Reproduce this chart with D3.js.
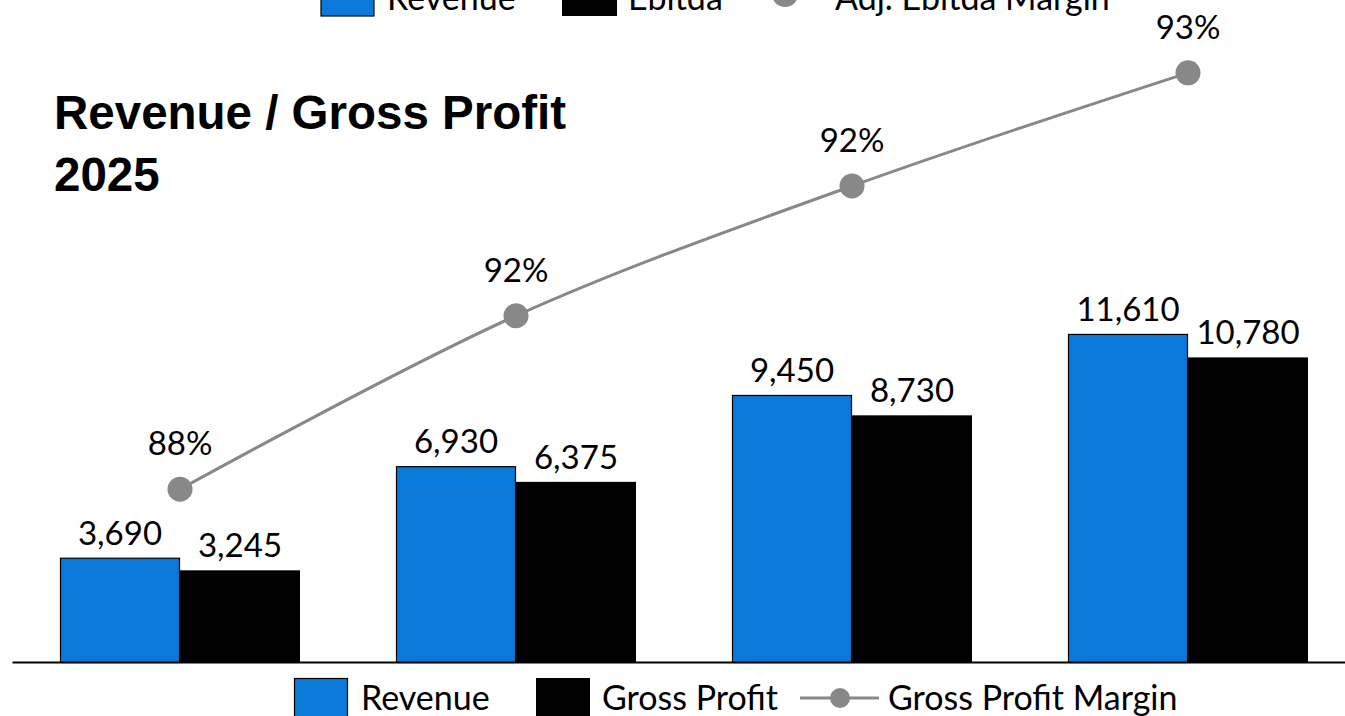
<!DOCTYPE html>
<html>
<head>
<meta charset="utf-8">
<script src="https://cdn.jsdelivr.net/npm/d3@7"></script>
<style>
  html, body { margin: 0; padding: 0; background: #ffffff; overflow: hidden; }
  svg { display: block; }
</style>
</head>
<body>
<svg id="chart" width="1345" height="716"></svg>
<script>
// ---------------- data ----------------
const categories = ["P1", "P2", "P3", "P4"];
const revenue = [3690, 6930, 9450, 11610];
const grossProfit = [3245, 6375, 8730, 10780];
const marginLabels = ["88%", "92%", "92%", "93%"];
// position of the margin line on its (hidden) secondary axis, 0–100
const marginLine = [26.1, 52.3, 71.9, 89.0];
const seriesNames = ["Revenue", "Gross Profit", "Gross Profit Margin"];
const topLegendNames = ["Revenue", "Ebitda", "Adj. Ebitda Margin"];
const titleLines = ["Revenue / Gross Profit", "2025"];

// ---------------- style ----------------
const BLUE = "#0a7ad8";
const BLACK = "#000000";
const GREY = "#888888";
const FONT = "Lato, 'Open Sans', sans-serif";
const FS = 33;
const LFS = 34;

const svg = d3.select("#chart");
const baseY = 662;

const x = d3.scaleBand().domain(categories).range([12, 1356])
  .paddingInner(96 / 336).paddingOuter(48 / 336);
const xSub = d3.scaleBand().domain(["rev", "gp"]).range([0, x.bandwidth()]);
const y = d3.scaleLinear().domain([0, 14000]).range([baseY, 266.4]);
const y2 = d3.scaleLinear().domain([0, 100]).range([baseY, 0]);

const rows = categories.map((c, i) => ({
  cat: c, rev: revenue[i], gp: grossProfit[i], mLab: marginLabels[i], m: marginLine[i]
}));

// bars
const g = svg.append("g");
const grp = g.selectAll("g.cat").data(rows).join("g")
  .attr("transform", d => `translate(${x(d.cat)},0)`);

grp.append("rect")
  .attr("x", xSub("rev") + 0.5).attr("y", d => y(d.rev) + 0.5)
  .attr("width", xSub.bandwidth() - 1).attr("height", d => baseY - y(d.rev))
  .attr("fill", BLUE).attr("stroke", "#000").attr("stroke-width", 1.2);

grp.append("rect")
  .attr("x", xSub("gp")).attr("y", d => y(d.gp))
  .attr("width", xSub.bandwidth()).attr("height", d => baseY - y(d.gp))
  .attr("fill", BLACK);

// value labels
grp.append("text")
  .attr("x", xSub("rev") + xSub.bandwidth() / 2).attr("y", d => y(d.rev) - 13)
  .attr("text-anchor", "middle").attr("font-family", FONT).attr("font-size", FS)
  .attr("fill", "#000").text(d => d3.format(",")(d.rev));
grp.append("text")
  .attr("x", xSub("gp") + xSub.bandwidth() / 2).attr("y", d => y(d.gp) - 13)
  .attr("text-anchor", "middle").attr("font-family", FONT).attr("font-size", FS)
  .attr("fill", "#000").text(d => d3.format(",")(d.gp));

// axis baseline
const axis = d3.axisBottom(x).tickSize(0).tickFormat("");
const ax = svg.append("g").attr("transform", `translate(0,${baseY})`).call(axis);
ax.select(".domain").attr("stroke", "#000").attr("stroke-width", 2.2);

// margin line
const cx = d => x(d.cat) + x.bandwidth() / 2;
const line = d3.line().x(cx).y(d => y2(d.m)).curve(d3.curveCatmullRom.alpha(0.5));
svg.append("path").datum(rows).attr("d", line)
  .attr("fill", "none").attr("stroke", GREY).attr("stroke-width", 3);
svg.selectAll("circle.m").data(rows).join("circle")
  .attr("cx", cx).attr("cy", d => y2(d.m)).attr("r", 12.5).attr("fill", GREY);
svg.selectAll("text.m").data(rows).join("text")
  .attr("x", cx).attr("y", d => y2(d.m) - 34)
  .attr("text-anchor", "middle").attr("font-family", FONT).attr("font-size", FS)
  .attr("fill", "#000").text(d => d.mLab);

// title
svg.append("text").attr("font-family", "'Liberation Sans', Arial, sans-serif")
  .attr("font-weight", "bold").attr("font-size", 47.5).attr("fill", "#000")
  .selectAll("tspan").data(titleLines).join("tspan")
  .attr("x", 54).attr("y", (d, i) => 129 + i * 62).text(d => d);

// bottom legend
const lg = svg.append("g");
lg.append("rect").attr("x", 294.5).attr("y", 678.5).attr("width", 53).attr("height", 53)
  .attr("fill", BLUE).attr("stroke", "#000").attr("stroke-width", 1.2);
lg.append("text").attr("x", 361).attr("y", 710).attr("font-family", FONT).attr("font-size", LFS).text(seriesNames[0]);
lg.append("rect").attr("x", 536).attr("y", 678).attr("width", 54).attr("height", 54).attr("fill", BLACK);
lg.append("text").attr("x", 602).attr("y", 710).attr("font-family", FONT).attr("font-size", LFS).text(seriesNames[1]);
lg.append("line").attr("x1", 800).attr("x2", 879).attr("y1", 698).attr("y2", 698)
  .attr("stroke", GREY).attr("stroke-width", 3);
lg.append("circle").attr("cx", 840).attr("cy", 698).attr("r", 10).attr("fill", GREY);
lg.append("text").attr("x", 888).attr("y", 710).attr("font-family", FONT).attr("font-size", LFS).text(seriesNames[2]);

// top (cropped) legend
const tl = svg.append("g");
tl.append("rect").attr("x", 321).attr("y", -38).attr("width", 53).attr("height", 54)
  .attr("fill", BLUE).attr("stroke", "#000").attr("stroke-width", 1.2);
tl.append("text").attr("x", 387).attr("y", 10).attr("font-family", FONT).attr("font-size", LFS).text(topLegendNames[0]);
tl.append("rect").attr("x", 562).attr("y", -38).attr("width", 55).attr("height", 54).attr("fill", BLACK);
tl.append("text").attr("x", 628).attr("y", 10).attr("font-family", FONT).attr("font-size", LFS).text(topLegendNames[1]);
tl.append("circle").attr("cx", 785).attr("cy", -6).attr("r", 13).attr("fill", GREY);
tl.append("text").attr("x", 835).attr("y", 10).attr("font-family", FONT).attr("font-size", LFS).text(topLegendNames[2]);
</script>
</body>
</html>
